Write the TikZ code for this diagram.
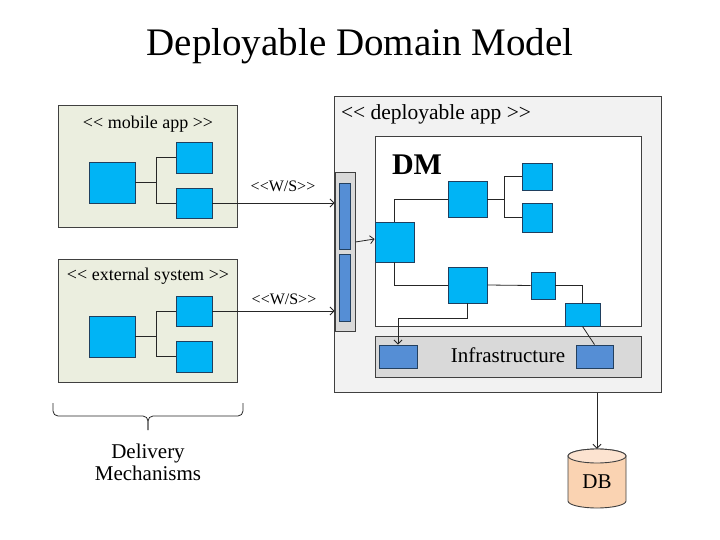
\documentclass[tikz,border=0pt]{standalone}
\usepackage{fontspec}
\setmainfont{Liberation Serif}
\usetikzlibrary{arrows.meta}
\definecolor{boxline}{HTML}{404040}
\definecolor{olive}{HTML}{EBEEDF}
\definecolor{deplfill}{HTML}{F2F2F2}
\definecolor{compblue}{HTML}{00B4F5}
\definecolor{compline}{HTML}{1F3F5F}
\definecolor{portblue}{HTML}{558ED5}
\definecolor{portline}{HTML}{23405F}
\definecolor{infragray}{HTML}{D9D9D9}
\definecolor{wirec}{HTML}{262626}
\definecolor{dbfill}{HTML}{FAD3B2}
\definecolor{dbtop}{HTML}{FCE3D0}
\begin{document}
\begin{tikzpicture}[x=1pt,y=-1pt,
  outerbox/.style={draw=boxline, line width=1pt, inner sep=0pt},
  comp/.style={draw=compline, fill=compblue, line width=0.9pt, inner sep=0pt},
  port/.style={draw=portline, fill=portblue, line width=0.9pt, inner sep=0pt},
  wire/.style={draw=wirec, line width=0.8pt},
  arr/.style={wire, -{Straight Barb[length=4pt,width=8pt]}},
  lbl/.style={inner sep=0pt, anchor=base}]
\useasboundingbox (0,0) rectangle (720,540);

% title
\node[lbl, font=\fontsize{39}{46}\selectfont] (title) at (360,56) {Deployable Domain Model};

% mobile app
\node[outerbox, fill=olive, minimum width=179, minimum height=122] (mobile) at (147.5,167) {};
\node[lbl, font=\fontsize{18}{22}\selectfont] (mobilelbl) at (148,129) {<\kern0pt< mobile app >\kern0pt>};
\node[comp, minimum width=46, minimum height=41] (m1) at (112,182.5) {};
\node[comp, minimum width=36, minimum height=31] (m2) at (194,157.5) {};
\node[comp, minimum width=36, minimum height=30] (m3) at (194,203) {};
\draw[wire] (m1.east) -- ++(21,0) |- (m2.west);
\draw[wire] (m1.east) -- ++(21,0) |- (m3.west);

% external system
\node[outerbox, fill=olive, minimum width=179, minimum height=123] (external) at (147.5,320.5) {};
\node[lbl, font=\fontsize{18}{22}\selectfont] (externallbl) at (148,280) {<\kern0pt< external system >\kern0pt>};
\node[comp, minimum width=46, minimum height=41] (e1) at (112,336.5) {};
\node[comp, minimum width=36, minimum height=30] (e2) at (194,311) {};
\node[comp, minimum width=36, minimum height=31] (e3) at (194,356.5) {};
\draw[wire] (e1.east) -- ++(21,0) |- (e2.west);
\draw[wire] (e1.east) -- ++(21,0) |- (e3.west);

% deployable app
\node[outerbox, fill=deplfill, minimum width=327, minimum height=295] (deploy) at (497.5,244.5) {};
\node[lbl, font=\fontsize{21.5}{26}\selectfont] (deploylbl) at (436,120) {<\kern0pt< deployable app >\kern0pt>};
\node[outerbox, fill=white, minimum width=266, minimum height=189] (dm) at (508,231.5) {};
\node[lbl, font=\fontsize{30}{36}\selectfont\bfseries] (dmlbl) at (417,175) {DM};
\node[outerbox, fill=infragray, minimum width=266, minimum height=41] (infra) at (508,356.5) {};
\node[lbl, font=\fontsize{21}{26}\selectfont] (infralbl) at (508,362) {Infrastructure};
\node[port, minimum width=38, minimum height=23] (i1) at (398,356.5) {};
\node[port, minimum width=37, minimum height=23] (i2) at (594.5,356.5) {};

% W/S bar
\node[outerbox, fill=infragray, minimum width=20, minimum height=158] (wsbar) at (345,252) {};
\node[port, minimum width=11, minimum height=66] (bar1) at (344.5,216) {};
\node[port, minimum width=11, minimum height=67] (bar2) at (344.5,287.5) {};

% DM components
\node[comp, minimum width=39, minimum height=36] (A) at (467.5,199) {};
\node[comp, minimum width=30, minimum height=27] (B) at (537,176.5) {};
\node[comp, minimum width=30, minimum height=29] (C) at (537,217.5) {};
\node[comp, minimum width=39, minimum height=40] (D) at (394.5,242) {};
\node[comp, minimum width=39, minimum height=36] (E) at (467.5,285) {};
\node[comp, minimum width=24, minimum height=27] (F) at (543,285.5) {};
\node[comp, minimum width=35, minimum height=23] (G) at (582.5,314.5) {};

\draw[wire] (D.north) |- (A.west);
\draw[wire] (A.east) -- ++(17,0) |- (B.west);
\draw[wire] (A.east) -- ++(17,0) |- (C.west);
\draw[wire] (D.south) |- (E.west);
\draw[wire] (E.east) -- (F.west);
\draw[wire] (F.east) -| (G.north);
\draw[arr] (E.south) -- ++(0,15) -| (i1.north);
\draw[wire] (G.south) -- (i2.north);

% web service connectors
\draw[arr] (m3.east) -- (m3.east -| wsbar.west);
\node[lbl, font=\fontsize{16}{19}\selectfont] (ws1) at (283,192) {<\kern0pt<W/S>\kern0pt>};
\draw[arr] (e2.east) -- (e2.east -| wsbar.west);
\node[lbl, font=\fontsize{16}{19}\selectfont] (ws2) at (284,304) {<\kern0pt<W/S>\kern0pt>};
\draw[arr] ([yshift=10pt]wsbar.east) -- ([yshift=3pt]D.west);

% database
\path[draw=boxline, fill=dbfill, line width=0.9pt] (568,456) -- (568,501)
  arc[start angle=180, end angle=0, x radius=29, y radius=7] -- (626,456)
  arc[start angle=0, end angle=-180, x radius=29, y radius=7] -- cycle;
\draw[draw=boxline, fill=dbtop, line width=0.9pt] (597,456) ellipse[x radius=29, y radius=7];
\node[inner sep=0pt, minimum width=58, minimum height=59] (db) at (597,478.5) {};
\node[lbl, font=\fontsize{21}{25}\selectfont] (dblbl) at (597,488) {DB};
\draw[arr] (deploy.south -| db.north) -- (db.north);

% brace
\coordinate (brL) at (53,403);
\coordinate (brR) at (243,403);
\coordinate (brTip) at (148,430);
\draw[wirec, line width=0.8pt, rounded corners=5pt] (brL) -- (53,416) -- (148,416) -- (brTip);
\draw[wirec, line width=0.8pt, rounded corners=5pt] (brR) -- (243,416) -- (148,416) -- (brTip);
\node[lbl, font=\fontsize{21}{25}\selectfont] (deliv1) at (148,458) {Delivery};
\node[lbl, font=\fontsize{21}{25}\selectfont] (deliv2) at (148,480) {Mechanisms};
\end{tikzpicture}
\end{document}
